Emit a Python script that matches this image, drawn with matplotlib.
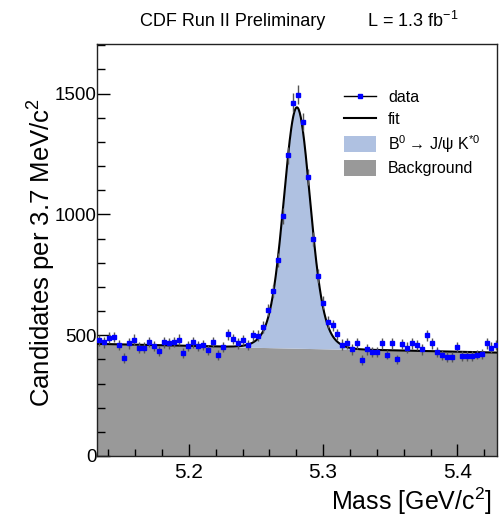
import numpy as np
import matplotlib
matplotlib.use('Agg')
import matplotlib.pyplot as plt
from matplotlib.lines import Line2D
from matplotlib.patches import Patch
from matplotlib.ticker import MultipleLocator

plt.rcParams['font.family'] = ['Liberation Sans', 'DejaVu Sans']
plt.rcParams['mathtext.fontset'] = 'custom'
plt.rcParams['mathtext.rm'] = 'Liberation Sans'
plt.rcParams['mathtext.it'] = 'Liberation Sans:italic'

# ---- data ----
bin_width = 0.0037          # GeV/c^2
first_bin_center = 5.1331   # GeV/c^2
counts = [479, 470, 490, 493, 459, 406, 466, 482, 449, 449,
          472, 456, 435, 470, 466, 472, 482, 428, 454, 470,
          454, 459, 438, 472, 417, 452, 504, 484, 466, 480,
          460, 500, 498, 534, 603, 683, 810, 993, 1244, 1462,
          1495, 1381, 1155, 897, 745, 635, 555, 541, 504, 461,
          466, 441, 466, 397, 441, 431, 431, 466, 420, 466,
          400, 463, 449, 466, 459, 441, 500, 466, 431, 417,
          410, 410, 452, 413, 413, 413, 420, 424, 466, 449,
          459]

# fit parameters
x_min, x_max = 5.1316, 5.4295
bkg_at_min, bkg_at_max = 464.0, 428.0
peak_mean = 5.2805
peak_amp = 997.0
sigma_narrow, sigma_wide, frac_narrow = 0.0092, 0.015, 0.8

x_ticks = [5.2, 5.3, 5.4]
y_ticks = [0, 500, 1000, 1500]

counts = np.array(counts, dtype=float)
mass = first_bin_center + bin_width * np.arange(len(counts))
errs = np.sqrt(counts)

m = np.linspace(x_min, x_max, 800)
bkg = bkg_at_min + (bkg_at_max - bkg_at_min) * (m - x_min) / (x_max - x_min)
sig = peak_amp * (frac_narrow * np.exp(-0.5 * ((m - peak_mean) / sigma_narrow) ** 2)
                  + (1 - frac_narrow) * np.exp(-0.5 * ((m - peak_mean) / sigma_wide) ** 2))
fit = bkg + sig

W, H = 502, 517
fig = plt.figure(figsize=(W / 100, H / 100), dpi=100)
ax = fig.add_axes([97 / W, 1 - 456 / H, 400 / W, 412 / H])

sig_color = '#afc1e1'
bkg_color = '#999999'
ax.fill_between(m, 0, bkg, color=bkg_color, lw=0, zorder=1)
ax.fill_between(m, bkg, fit, color=sig_color, lw=0, zorder=1)
ax.plot(m, fit, color='black', lw=1.5, zorder=3)
ax.errorbar(mass, counts, yerr=errs, fmt='s', color='#0000ff', ms=3.3,
            ecolor='#555555', elinewidth=1.0, capsize=0, zorder=4)

ax.set_xlim(x_min, x_max)
ax.set_ylim(0, 1705)
ax.set_xticks(x_ticks)
ax.set_yticks(y_ticks)
ax.xaxis.set_minor_locator(MultipleLocator(0.02))
ax.yaxis.set_minor_locator(MultipleLocator(100))
ax.tick_params(axis='both', which='both', direction='in', top=False, right=False)
ax.tick_params(axis='x', which='major', length=9, width=1, labelsize=15, pad=5)
ax.tick_params(axis='x', which='minor', length=5, width=1)
ax.tick_params(axis='y', which='major', length=9.5, width=1, labelsize=13.5, pad=0.5)
ax.tick_params(axis='y', which='minor', length=5.8, width=1)
for s in ax.spines.values():
    s.set_linewidth(1.0)
    s.set_color('#222222')

fig.text(492 / W, 1 - 501 / H, 'Mass [GeV/c$^2$]', ha='right', va='center', fontsize=18)
fig.text(42 / W, 1 - 98 / H, 'Candidates per 3.7 MeV/c$^2$', ha='center', va='top',
         rotation=90, fontsize=18.5)

fig.text(140 / W, 1 - 21 / H, 'CDF Run II Preliminary', ha='left', va='center', fontsize=13)
fig.text(367 / W, 1 - 21 / H, 'L = 1.3 fb$^{-1}$', ha='left', va='center', fontsize=13)

handles = [
    Line2D([], [], color='black', lw=1, marker='s', ms=3, markerfacecolor='#0000ff',
           markeredgecolor='#0000ff'),
    Line2D([], [], color='black', lw=1.5),
    Patch(facecolor=sig_color, edgecolor='none'),
    Patch(facecolor=bkg_color, edgecolor='none'),
]
labels = ['data', 'fit', 'B$^0\\rightarrow\\,$J/ψ K$^{*0}$', 'Background']
fig.legend(handles, labels, loc='upper left', bbox_to_anchor=(344 / W, 1 - 89 / H),
           frameon=False, fontsize=11.5, handlelength=2.0, handleheight=1.15,
           handletextpad=0.75, labelspacing=0.35, borderpad=0, borderaxespad=0)

fig.savefig('out.png', dpi=100)
